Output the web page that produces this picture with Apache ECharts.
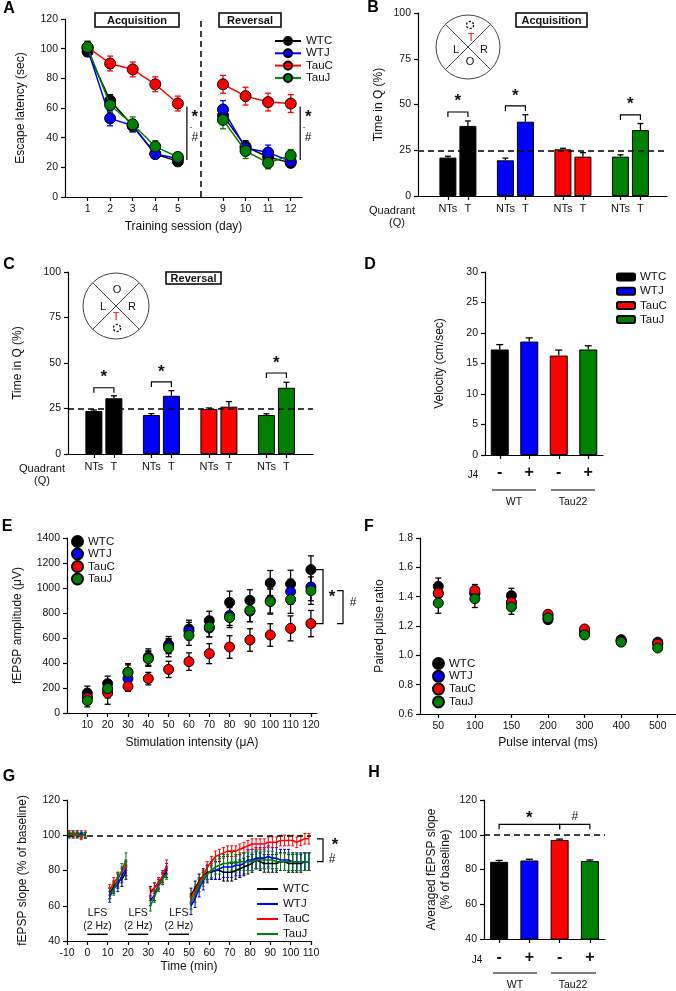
<!DOCTYPE html>
<html>
<head>
<meta charset="utf-8">
<script src="https://cdn.jsdelivr.net/npm/echarts@6/dist/echarts.min.js"></script>
<style>html,body{margin:0;padding:0;background:#fff}#fig{width:676px;height:991px}</style>
</head>
<body>
<div id="fig"></div>
<script>
const FONT = '"Liberation Sans", Arial, sans-serif';
const groups = ['WTC', 'WTJ', 'TauC', 'TauJ'];
const groupColors = ['#000000', '#0000ff', '#ff0000', '#008000'];

// A - escape latency
const sessions = [1, 2, 3, 4, 5, 9, 10, 11, 12];
const latWTC = [98, 65, 48, 29, 24, 55, 34, 27, 23];
const latWTJ = [100, 53, 48, 29, 26, 59, 33, 30, 24];
const latTauC = [101, 90, 86, 76, 63, 76, 68, 64, 63];
const latTauJ = [101, 62, 49, 34, 27, 52, 31, 23, 28];
const latErrWTC = [3, 4, 4, 3, 3, 6, 4, 4, 3];
const latErrWTJ = [3, 5, 4, 3, 3, 6, 4, 5, 3];
const latErrTauC = [4, 5, 5, 5, 5, 6, 6, 6, 6];
const latErrTauJ = [4, 5, 5, 4, 3, 6, 5, 4, 4];

// B / C - time in quadrant
const quadLabels = ['NTs', 'T'];
const acqNTs = [21, 19.5, 25.5, 21.5];
const acqNTsErr = [0.7, 1.2, 0.6, 1];
const acqT = [38.3, 40.6, 21.5, 36];
const acqTErr = [2.7, 3.8, 2.2, 3.6];
const revNTs = [23.6, 21.4, 24.7, 21.4];
const revNTsErr = [0.6, 0.8, 0.6, 0.7];
const revT = [30.6, 32, 26, 36.4];
const revTErr = [1.4, 2.8, 2.8, 3];

// D - velocity
const j4Labels = ['-', '+', '-', '+'];
const velocity = [17.3, 18.6, 16.3, 17.3];
const velocityErr = [0.8, 0.6, 0.9, 0.6];

// E - input/output
const intensity = [10, 20, 30, 40, 50, 60, 70, 80, 90, 100, 110, 120];
const ampWTC = [160, 235, 325, 448, 547, 672, 739, 885, 901, 1040, 1032, 1147];
const ampWTJ = [130, 180, 275, 435, 535, 655, 680, 780, 815, 900, 970, 1008];
const ampTauC = [120, 160, 213, 275, 349, 411, 475, 528, 584, 624, 677, 715];
const ampTauJ = [99, 195, 325, 435, 520, 621, 688, 763, 821, 891, 907, 979];
const ampErrWTC = [55, 60, 70, 65, 65, 70, 75, 90, 85, 100, 110, 110];
const ampErrWTJ = [50, 60, 60, 60, 60, 70, 70, 80, 85, 100, 100, 110];
const ampErrTauC = [40, 90, 40, 50, 65, 70, 80, 90, 90, 90, 100, 105];
const ampErrTauJ = [50, 60, 60, 60, 70, 80, 80, 80, 90, 100, 110, 110];

// F - paired pulse ratio
const pulseInterval = ['50', '100', '150', '200', '300', '400', '500'];
const ppWTC = [1.47, 1.425, 1.407, 1.243, 1.148, 1.107, 1.09];
const ppWTJ = [1.42, 1.42, 1.36, 1.27, 1.16, 1.1, 1.08];
const ppTauC = [1.425, 1.443, 1.36, 1.28, 1.18, 1.095, 1.077];
const ppTauJ = [1.357, 1.386, 1.33, 1.255, 1.139, 1.09, 1.05];
const ppErrWTC = [0.057, 0.04, 0.05, 0.02, 0.02, 0.02, 0.015];
const ppErrWTJ = [0.05, 0.04, 0.045, 0.02, 0.02, 0.02, 0.015];
const ppErrTauC = [0.05, 0.04, 0.045, 0.02, 0.02, 0.015, 0.015];
const ppErrTauJ = [0.07, 0.06, 0.05, 0.02, 0.02, 0.015, 0.015];

// G - LTD time course
const ltdTime = [-9, -7, -5, -3, -1, 11, 13, 15, 17, 19, 31, 33, 35, 37, 39,
  51, 53, 55, 57, 59, 61, 63, 65, 67, 69, 71, 73, 75, 77, 79, 81, 83, 85, 87, 89,
  91, 93, 95, 97, 99, 101, 103, 105, 107, 109];
const ltdWTC = [101, 100, 101, 100, 100, 67, 71, 74, 75, 79, 68, 70, 73, 76, 79,
  66, 70, 74, 77, 79, 79, 80, 80, 79, 79, 79, 80, 81, 82, 83, 84, 86, 85, 84, 84,
  84, 84, 85, 85, 84, 84, 84, 84, 85, 85];
const ltdWTJ = [100, 101, 100, 101, 100, 65, 70, 72, 77, 81, 63, 66, 72, 75, 81,
  60, 64, 70, 74, 78, 80, 80, 81, 82, 82, 82, 83, 83, 84, 86, 86, 87, 87, 87, 88,
  87, 87, 86, 86, 86, 85, 85, 85, 85, 85];
const ltdTauC = [101, 100, 101, 99, 101, 69, 73, 76, 79, 83, 67, 70, 73, 77, 83,
  64, 68, 73, 77, 82, 85, 88, 89, 90, 91, 91, 91, 92, 93, 94, 95, 95, 95, 95, 96,
  96, 96, 97, 97, 97, 97, 96, 97, 98, 98];
const ltdTauJ = [100, 101, 100, 100, 100, 67, 69, 75, 80, 86, 60, 65, 71, 75, 78,
  62, 66, 72, 75, 78, 80, 82, 83, 84, 84, 85, 84, 85, 85, 85, 85, 86, 86, 86, 86,
  86, 85, 85, 85, 85, 85, 85, 85, 85, 85];
const ltdErrWTC = [1.5, 1.5, 1.5, 1.5, 1.5, 3, 3, 4, 4, 4, 3, 3, 3, 3, 3,
  4, 4, 4, 4, 4, 4, 5, 5, 5, 5, 5, 5, 5, 5, 5, 5, 5, 5, 5, 5, 5, 5, 5, 5, 5, 5, 5, 5, 5, 5];
const ltdErrWTJ = [1.5, 1.5, 1.5, 1.5, 1.5, 3, 3, 4, 4, 4, 3, 3, 3, 3, 3,
  5, 5, 5, 5, 5, 5, 5, 6, 6, 6, 6, 6, 6, 6, 6, 6, 6, 6, 6, 6, 6, 6, 6, 6, 6, 5, 5, 5, 5, 5];
const ltdErrTauC = [1.5, 1.5, 1.5, 1.5, 1.5, 3, 3, 3, 3, 3, 3, 3, 3, 3, 3,
  3, 3, 3, 3, 3, 3, 3, 3, 3, 3, 3, 3, 3, 3, 3, 3, 3, 3, 3, 3, 3, 3, 3, 3, 3, 3, 3, 3, 3, 3];
const ltdErrTauJ = [1.5, 1.5, 1.5, 1.5, 1.5, 3, 3, 4, 4, 4, 3, 3, 3, 3, 3,
  4, 4, 4, 4, 4, 4, 4, 5, 5, 5, 5, 5, 5, 5, 5, 5, 5, 5, 5, 5, 5, 5, 5, 5, 5, 5, 5, 5, 5, 5];

// H - averaged slope
const avgSlope = [84.4, 85.2, 97, 84.9];
const avgSlopeErr = [0.8, 0.7, 0.5, 0.6];

const latency = [latWTC, latWTJ, latTauC, latTauJ];
const latencyErr = [latErrWTC, latErrWTJ, latErrTauC, latErrTauJ];
const amp = [ampWTC, ampWTJ, ampTauC, ampTauJ];
const ampErr = [ampErrWTC, ampErrWTJ, ampErrTauC, ampErrTauJ];
const pp = [ppWTC, ppWTJ, ppTauC, ppTauJ];
const ppErr = [ppErrWTC, ppErrWTJ, ppErrTauC, ppErrTauJ];
const ltd = [ltdWTC, ltdWTJ, ltdTauC, ltdTauJ];
const ltdErr = [ltdErrWTC, ltdErrWTJ, ltdErrTauC, ltdErrTauJ];

// x position of a session on panel A axis (gap between day 5 and day 9)
const sessPos = s => (s <= 5 ? s : s - 2);
const tOffset = 0.348;

const chart = echarts.init(document.getElementById('fig'), null, { renderer: 'canvas' });

function makeErr(cap, both, width) {
  return function (params, api) {
    const x = api.value(0);
    const lo = api.coord([x, api.value(1)]);
    const hi = api.coord([x, api.value(2)]);
    const style = { stroke: api.visual('color'), lineWidth: width };
    const kids = [
      { type: 'line', shape: { x1: lo[0], y1: lo[1], x2: hi[0], y2: hi[1] }, style },
      { type: 'line', shape: { x1: hi[0] - cap / 2, y1: hi[1], x2: hi[0] + cap / 2, y2: hi[1] }, style }
    ];
    if (both) kids.push({ type: 'line', shape: { x1: lo[0] - cap / 2, y1: lo[1], x2: lo[0] + cap / 2, y2: lo[1] }, style });
    return { type: 'group', children: kids };
  };
}
function errSeries(idx, data, color, cap, both, width, z) {
  return {
    type: 'custom', xAxisIndex: idx, yAxisIndex: idx, data, silent: true,
    renderItem: makeErr(cap, both, width || 1.2), itemStyle: { color },
    encode: { x: 0, y: [1, 2] }, z: z || 1
  };
}

function axis(extra) {
  const base = {
    axisLine: { show: true, onZero: false, lineStyle: { color: '#000', width: 1.2 } },
    axisTick: { show: true, length: 4, lineStyle: { color: '#000', width: 1.2 } },
    axisLabel: { color: '#111', fontSize: 10.5, fontFamily: FONT, margin: 7 },
    splitLine: { show: false },
    nameLocation: 'middle',
    nameTextStyle: { color: '#111', fontSize: 12, fontFamily: FONT }
  };
  const out = Object.assign({}, base, extra);
  ['axisLine', 'axisTick', 'axisLabel', 'nameTextStyle'].forEach(k => {
    if (extra[k]) out[k] = Object.assign({}, base[k], extra[k]);
  });
  return out;
}

const quadTicks = [];
[0, 1, 2, 3].forEach(g => { quadTicks.push(g, g + tOffset); });
const quadFmt = v => (Math.abs(v - Math.round(v)) < 0.01 ? quadLabels[0] : quadLabels[1]);
const aTicks = sessions.map(sessPos);

const grids = [
  { left: 65, top: 19, width: 237, height: 178 },
  { left: 418, top: 13, width: 249, height: 183 },
  { left: 68, top: 272, width: 245, height: 182 },
  { left: 485, top: 272, width: 118, height: 183 },
  { left: 67, top: 538, width: 250, height: 175 },
  { left: 420, top: 538, width: 262, height: 176 },
  { left: 67, top: 800, width: 244, height: 141 },
  { left: 484, top: 800, width: 121, height: 139 }
];

const xAxes = [
  axis({ type: 'value', gridIndex: 0, min: 0, max: 10.5, name: 'Training session (day)', nameGap: 24,
    axisTick: { customValues: aTicks }, axisLabel: { customValues: aTicks, formatter: v => String(v <= 5 ? v : v + 2) } }),
  axis({ type: 'value', gridIndex: 1, min: -0.52, max: 3.81,
    axisTick: { customValues: quadTicks }, axisLabel: { customValues: quadTicks, formatter: quadFmt, fontSize: 11 } }),
  axis({ type: 'value', gridIndex: 2, min: -0.45, max: 3.81,
    axisTick: { customValues: quadTicks }, axisLabel: { customValues: quadTicks, formatter: quadFmt, fontSize: 11 } }),
  axis({ type: 'category', gridIndex: 3, data: j4Labels, axisTick: { alignWithLabel: true },
    axisLabel: { fontSize: 16, fontWeight: 'bold', margin: 10 } }),
  axis({ type: 'value', gridIndex: 4, min: 0, max: 123, name: 'Stimulation intensity (\u03bcA)', nameGap: 24,
    axisTick: { customValues: intensity }, axisLabel: { customValues: intensity } }),
  axis({ type: 'category', gridIndex: 5, data: pulseInterval, name: 'Pulse interval (ms)', nameGap: 23,
    axisTick: { alignWithLabel: true } }),
  axis({ type: 'value', gridIndex: 6, min: -10, max: 110, interval: 10, name: 'Time (min)', nameGap: 20 }),
  axis({ type: 'category', gridIndex: 7, data: j4Labels, axisTick: { alignWithLabel: true },
    axisLabel: { fontSize: 16, fontWeight: 'bold', margin: 11 } })
];

const yAxes = [
  axis({ type: 'value', gridIndex: 0, min: 0, max: 120, interval: 20, name: 'Escape latency (sec)', nameGap: 38 }),
  axis({ type: 'value', gridIndex: 1, min: 0, max: 100, interval: 25, name: 'Time in Q (%)', nameGap: 33 }),
  axis({ type: 'value', gridIndex: 2, min: 0, max: 100, interval: 25, name: 'Time in Q (%)', nameGap: 44 }),
  axis({ type: 'value', gridIndex: 3, min: 0, max: 30, interval: 5, name: 'Velocity (cm/sec)', nameGap: 39 }),
  axis({ type: 'value', gridIndex: 4, min: 0, max: 1400, interval: 200, name: 'fEPSP amplitude (\u03bcV)', nameGap: 43,
    axisLabel: { formatter: v => String(v) } }),
  axis({ type: 'value', gridIndex: 5, min: 0.6, max: 1.8, interval: 0.2, name: 'Paired pulse ratio', nameGap: 34,
    axisLabel: { formatter: v => v.toFixed(1) } }),
  axis({ type: 'value', gridIndex: 6, min: 40, max: 120, interval: 20, name: 'fEPSP slope (% of baseline)', nameGap: 38 }),
  axis({ type: 'value', gridIndex: 7, min: 40, max: 120, interval: 20, name: 'Averaged fEPSP slope\n(% of baseline)', nameGap: 31,
    nameTextStyle: { lineHeight: 14 } })
];

const dashed = { type: [6, 4], color: '#000', width: 1.5 };
const hLine = (y) => ({ symbol: 'none', silent: true, label: { show: false }, lineStyle: dashed, data: [{ yAxis: y }] });

const series = [];

// A
groups.forEach((g, i) => {
  const c = groupColors[i];
  const pts = sessions.map((s, k) => [sessPos(s), latency[i][k]]);
  series.push({
    name: 'A_' + g, type: 'line', xAxisIndex: 0, yAxisIndex: 0,
    data: [...pts.slice(0, 5), [6, null], ...pts.slice(5)],
    symbol: 'circle', symbolSize: 11, lineStyle: { color: c, width: 1.5 },
    itemStyle: { color: c, borderColor: '#000', borderWidth: 1 }, z: 3 + i,
    markLine: i === 0 ? { symbol: 'none', silent: true, label: { show: false }, lineStyle: dashed, data: [{ xAxis: 6 }] } : undefined
  });
  series.push(errSeries(0, sessions.map((s, k) => [sessPos(s), latency[i][k] - latencyErr[i][k], latency[i][k] + latencyErr[i][k]]), c, 6, true, 1.3));
});

// B, C
function quadSeries(idx, nts, ntsErr, t, tErr) {
  const bars = [], errs = [];
  [0, 1, 2, 3].forEach(g => {
    bars.push({ value: [g, nts[g]], itemStyle: { color: groupColors[g] } });
    bars.push({ value: [g + tOffset, t[g]], itemStyle: { color: groupColors[g] } });
    errs.push([g, nts[g], nts[g] + ntsErr[g]], [g + tOffset, t[g], t[g] + tErr[g]]);
  });
  series.push({ type: 'bar', xAxisIndex: idx, yAxisIndex: idx, data: bars, barWidth: 17,
    itemStyle: { borderColor: '#000', borderWidth: 1 }, markLine: hLine(25), z: 2 });
  series.push(errSeries(idx, errs, '#000', 6, false, 1.3, 1));
}
quadSeries(1, acqNTs, acqNTsErr, acqT, acqTErr);
quadSeries(2, revNTs, revNTsErr, revT, revTErr);

// D
groups.forEach((g, i) => {
  series.push({ name: 'D_' + g, type: 'bar', xAxisIndex: 3, yAxisIndex: 3, barWidth: 18, barGap: '-100%',
    data: velocity.map((v, k) => (k === i ? v : '-')),
    itemStyle: { color: groupColors[i], borderColor: '#000', borderWidth: 1 }, z: 2 });
});
series.push(errSeries(3, velocity.map((v, k) => [k, v, v + velocityErr[k]]), '#000', 7, false, 1.3));

// E
groups.forEach((g, i) => {
  series.push({ name: 'E_' + g, type: 'scatter', xAxisIndex: 4, yAxisIndex: 4,
    data: intensity.map((x, k) => [x, amp[i][k]]), symbolSize: 10,
    itemStyle: { color: groupColors[i], borderColor: '#000', borderWidth: 1, opacity: 1 }, z: 3 + i });
  series.push(errSeries(4, intensity.map((x, k) => [x, amp[i][k] - ampErr[i][k], amp[i][k] + ampErr[i][k]]), '#000', 6, true, 1.3));
});

// F
groups.forEach((g, i) => {
  series.push({ name: 'F_' + g, type: 'scatter', xAxisIndex: 5, yAxisIndex: 5,
    data: pp[i], symbolSize: 10,
    itemStyle: { color: groupColors[i], borderColor: '#000', borderWidth: 1, opacity: 1 }, z: 3 + i });
  series.push(errSeries(5, pp[i].map((v, k) => [k, v - ppErr[i][k], v + ppErr[i][k]]), '#000', 6, true, 1.3));
});

// G
groups.forEach((g, i) => {
  const c = groupColors[i];
  const data = [];
  ltdTime.forEach((t, k) => {
    if (k > 0 && t - ltdTime[k - 1] > 5) data.push([t - 1, null]);
    data.push([t, ltd[i][k]]);
  });
  series.push({ name: 'G_' + g, type: 'line', xAxisIndex: 6, yAxisIndex: 6, data, symbol: 'none',
    lineStyle: { color: c, width: 1.6 }, itemStyle: { color: c }, z: 3 + i,
    markLine: i === 0 ? hLine(100) : undefined });
  series.push(errSeries(6, ltdTime.map((t, k) => [t, ltd[i][k] - ltdErr[i][k], ltd[i][k] + ltdErr[i][k]]), c, 3, true, 1));
});

// H
series.push({ type: 'bar', xAxisIndex: 7, yAxisIndex: 7, barWidth: 18,
  data: avgSlope.map((v, k) => ({ value: v, itemStyle: { color: groupColors[k] } })),
  itemStyle: { borderColor: '#000', borderWidth: 1 }, markLine: hLine(100), z: 2 });
series.push(errSeries(7, avgSlope.map((v, k) => [k, v, v + avgSlopeErr[k]]), '#000', 7, false, 1.3));

const legendText = { color: '#111', fontSize: 11.5, fontFamily: FONT, lineHeight: 10 };
const strip = name => name.split('_')[1];
const legends = [
  { data: groups.map(g => 'A_' + g), left: 274, top: 35, itemWidth: 26, itemHeight: 10, itemGap: 0.3 },
  { data: groups.map(g => 'D_' + g), left: 616, top: 271, itemWidth: 18, itemHeight: 7, itemGap: 2.2 },
  { data: groups.map(g => 'E_' + g), left: 71, top: 535, itemWidth: 11, itemHeight: 11, itemGap: -0.5 },
  { data: groups.map(g => 'F_' + g), left: 432, top: 657, itemWidth: 11, itemHeight: 11, itemGap: -0.2 },
  { data: groups.map(g => ({ name: 'G_' + g, icon: 'rect' })), left: 257, top: 883, itemWidth: 21, itemHeight: 2, itemGap: 3 }
].map(l => Object.assign({ orient: 'vertical', formatter: strip, textStyle: legendText, padding: 0, selectedMode: false }, l));

chart.setOption({
  animation: false,
  backgroundColor: '#fff',
  textStyle: { fontFamily: FONT },
  grid: grids,
  xAxis: xAxes,
  yAxis: yAxes,
  legend: legends,
  series
});

// ---- annotations ----
const px = (gi, pt) => chart.convertToPixel({ gridIndex: gi }, pt);
const stroke = { stroke: '#000', lineWidth: 1.2, fill: 'none' };
function txt(x, y, s, o) {
  o = o || {};
  return { type: 'text', x, y, z: 100, style: {
    text: s, fill: o.fill || '#111', fontSize: o.size || 11, fontWeight: o.weight || 'normal', fontFamily: FONT,
    align: o.align || 'center', verticalAlign: 'middle', textAlign: o.align || 'center', textVerticalAlign: 'middle' } };
}
const line = (x1, y1, x2, y2, st) => ({ type: 'line', z: 100, shape: { x1, y1, x2, y2 }, style: Object.assign({}, stroke, st || {}) });
const poly = (points, st) => ({ type: 'polyline', z: 100, shape: { points }, style: Object.assign({}, stroke, st || {}) });
function box(x, y, w, h, s) {
  return [{ type: 'rect', z: 99, shape: { x, y, width: w, height: h }, style: { fill: '#fff', stroke: '#000', lineWidth: 1.5 } },
    txt(x + w / 2, y + h / 2 + 0.5, s, { weight: 'bold', size: 11 })];
}
function bracket(gi, x1, x2, y, label, lift) {
  const a = px(gi, [x1, y]), b = px(gi, [x2, y]);
  return [poly([[a[0], a[1] + 5], [a[0], a[1]], [b[0], b[1]], [b[0], b[1] + 5]]),
    txt((a[0] + b[0]) / 2, a[1] - lift, label, label === '*' ? { size: 17, weight: 'bold' } : { size: 12 })];
}
function quadDiagram(cx, cy, r, labels) {
  const d = r * 0.707;
  const out = [
    { type: 'circle', z: 100, shape: { cx, cy, r }, style: { fill: '#fff', stroke: '#444', lineWidth: 1 } },
    line(cx - d, cy - d, cx + d, cy + d, { stroke: '#444', lineWidth: 1 }),
    line(cx + d, cy - d, cx - d, cy + d, { stroke: '#444', lineWidth: 1 })
  ];
  labels.forEach(l => {
    if (l[2] === 'P') out.push({ type: 'circle', z: 101, shape: { cx: l[0], cy: l[1], r: 3.6 }, style: { fill: 'none', stroke: '#111', lineWidth: 1.3, lineDash: [2.2, 1.6] } });
    else out.push(txt(l[0], l[1], l[2], { size: 11, fill: l[2] === 'T' ? '#ff0000' : '#111' }));
  });
  return out;
}
function sigStack(x, yTop) {
  return [txt(x + 8, yTop + 11, '*', { size: 17, weight: 'bold' }), txt(x + 4, yTop + 20, '-', { size: 8 }),
    txt(x + 8, yTop + 31, '#', { size: 12 })];
}

const g = [];
// panel letters
[['A', 9, 9], ['B', 373, 8], ['C', 9, 265], ['D', 370, 265], ['E', 7, 527], ['F', 369, 527], ['G', 9, 777], ['H', 374, 773]]
  .forEach(l => g.push(txt(l[1], l[2], l[0], { size: 16, weight: 'bold', fill: '#000' })));

// A
g.push(...box(95, 13, 84, 14, 'Acquisition'), ...box(219, 13, 62, 14, 'Reversal'));
[[5.4, latTauC[4], latWTC[4]], [10.42, latTauC[8], latWTJ[8]]].forEach(s => {
  const a = px(0, [s[0], s[1] - 2]), b = px(0, [s[0], s[2] + 1]);
  g.push(line(a[0], a[1], b[0], b[1]), ...sigStack(a[0], a[1]));
});

// B
g.push(...box(516, 13, 71, 14, 'Acquisition'));
g.push(...quadDiagram(468, 47, 32, [[470, 25, 'P'], [471, 38, 'T'], [456, 50, 'L'], [484, 50, 'R'], [470, 62, 'O']]));
g.push(...bracket(1, 0, tOffset, 45.9, '*', 11), ...bracket(1, 1, 1 + tOffset, 49.2, '*', 10), ...bracket(1, 3, 3 + tOffset, 44.3, '*', 11));
g.push(txt(392, 211, 'Quadrant', { size: 11 }), txt(397, 223, '(Q)', { size: 11 }));

// C
g.push(...box(166, 272, 55, 12, 'Reversal'));
g.push(...quadDiagram(116, 306, 33, [[117, 290, 'O'], [103, 307, 'L'], [132, 307, 'R'], [116, 317, 'T'], [117, 328, 'P']]));
g.push(...bracket(2, 0, tOffset, 36.4, '*', 10), ...bracket(2, 1, 1 + tOffset, 39.6, '*', 10), ...bracket(2, 3, 3 + tOffset, 44.5, '*', 10));
g.push(txt(42, 469, 'Quadrant', { size: 11 }), txt(42, 481, '(Q)', { size: 11 }));

// D
g.push(txt(473, 475, 'J4', { size: 10 }));
g.push(line(492, 490, 536, 490), line(551, 490, 595, 490), txt(514, 502, 'WT', { size: 10.5 }), txt(573, 502, 'Tau22', { size: 10.5 }));

// E
(function () {
  const yW = px(4, [120, ampWTC[11]])[1], yC = px(4, [120, ampTauC[11]])[1], yJ = px(4, [120, ampTauJ[11]])[1];
  g.push(poly([[315, yW], [323, yW], [323, yC], [315, yC]]), txt(332, (yW + yC) / 2 + 1, '*', { size: 17, weight: 'bold' }));
  g.push(poly([[337, yJ], [343, yJ], [343, yC], [337, yC]]), txt(353, (yJ + yC) / 2 - 4, '#', { size: 12 }));
})();

// G
(function () {
  const yT = px(6, [110, ltdTauC[44]])[1], yB = px(6, [110, ltdWTC[44]])[1];
  g.push(poly([[317, yT], [323, yT], [323, yB], [317, yB]]));
  g.push(txt(335, yT + 7, '*', { size: 17, weight: 'bold' }), txt(332, yT + 14, '-', { size: 7 }), txt(332, yT + 21, '#', { size: 12 }));
  [5, 25, 45].forEach(t => {
    const a = px(6, [t, 55.8]), b = px(6, [t, 48.4]);
    const l1 = px(6, [t - 5, 43.8]), l2 = px(6, [t + 5, 43.8]);
    g.push(txt(a[0], a[1], 'LFS', { size: 10.5 }), txt(b[0], b[1], '(2 Hz)', { size: 10.5 }),
      line(l1[0], l1[1], l2[0], l2[1], { lineWidth: 1.5 }));
  });
})();

// H
g.push(...bracket(7, 0, 2, 106, '*', 6), ...bracket(7, 2, 3, 106, '#', 8));
g.push(txt(477, 960, 'J4', { size: 10 }));
g.push(line(493, 973, 537, 973), line(551, 973, 596, 973), txt(515, 985, 'WT', { size: 10.5 }), txt(573, 985, 'Tau22', { size: 10.5 }));

chart.setOption({ graphic: { elements: g } });
</script>
</body>
</html>
